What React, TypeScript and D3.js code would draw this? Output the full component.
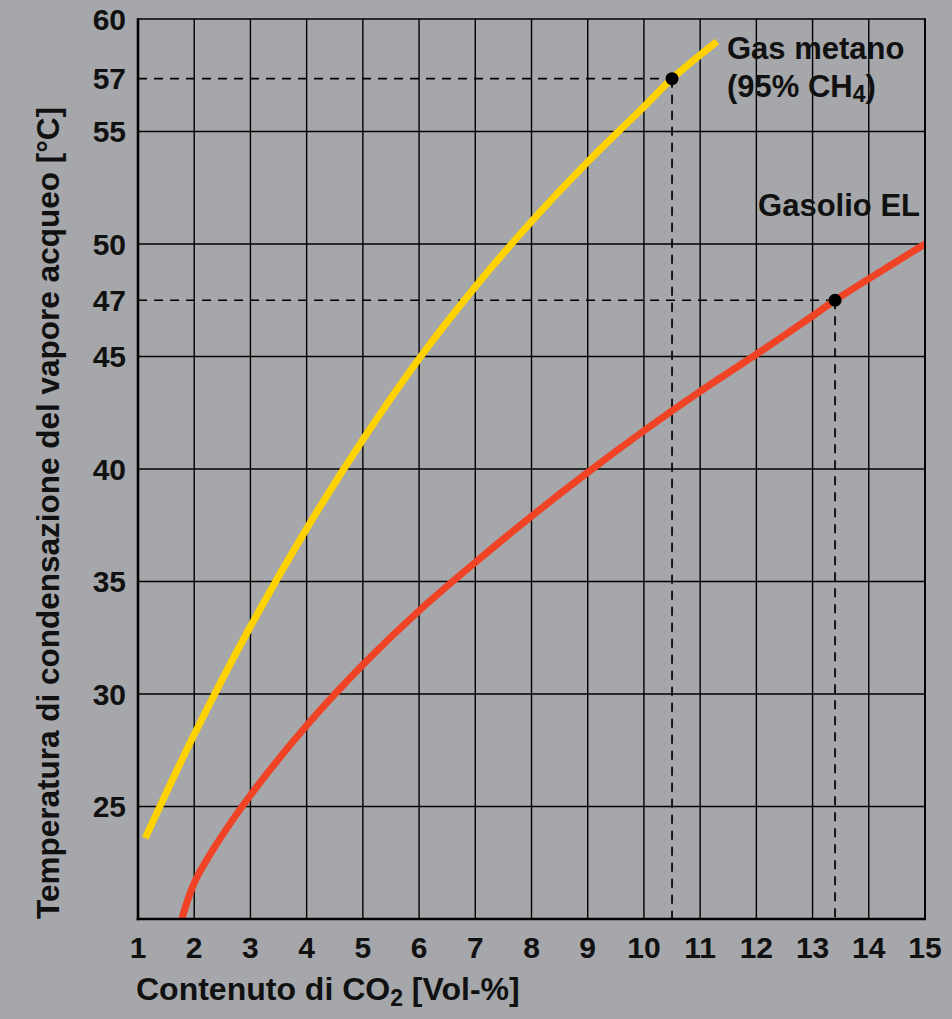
import React from "react";
import * as d3 from "d3";

// ---- Data ----
const xTicks = [1, 2, 3, 4, 5, 6, 7, 8, 9, 10, 11, 12, 13, 14, 15];
const yTicks = [25, 30, 35, 40, 45, 50, 55, 60];
const gridY = [20, 25, 30, 35, 40, 45, 50, 55, 60];

// Gas metano (95% CH4): CO2 content [Vol-%] vs dew point [°C]
const metanoX = [1.13, 2, 3, 4, 5, 6, 7, 8, 9, 10, 10.5, 11.3];
const metanoY = [23.6, 28.2, 33.0, 37.35, 41.3, 44.9, 48.1, 51.0, 53.65, 56.1, 57.35, 59.0];

// Gasolio EL
const gasolioX = [1.78, 2, 2.39, 3, 4, 5, 6, 7, 8, 9, 10, 11, 12, 13, 13.4, 14, 15];
const gasolioY = [20, 21.6, 23.3, 25.5, 28.6, 31.3, 33.7, 35.85, 37.9, 39.85, 41.7, 43.45, 45.1, 46.8, 47.5, 48.45, 50.0];

// Highlighted points (drawn position) and their tick labels
const markerX = [10.5, 13.4];
const markerY = [57.35, 47.5];
const markerLabels = ["57", "47"];

const W = 952;
const H = 1019;
const left = 138;
const right = 925;
const top = 19;
const bottom = 919;

const BG = "#a5a7aa";
const YELLOW = "#ffd200";
const RED = "#f04325";
const FONT = "'Liberation Sans', Arial, Helvetica, sans-serif";

export default function App() {
  const x = d3.scaleLinear().domain([1, 15]).range([left, right]);
  const y = d3.scaleLinear().domain([20, 60]).range([bottom, top]);

  const line = d3
    .line<[number, number]>()
    .x((d) => x(d[0]))
    .y((d) => y(d[1]))
    .curve(d3.curveCatmullRom.alpha(0.5));

  const metano: [number, number][] = metanoX.map((v, i) => [v, metanoY[i]]);
  const gasolio: [number, number][] = gasolioX.map((v, i) => [v, gasolioY[i]]);

  return (
    <svg
      width={W}
      height={H}
      style={{ position: "absolute", left: 0, top: 0, display: "block" }}
      fontFamily={FONT}
      fontWeight="bold"
    >
      <rect x={0} y={0} width={W} height={H} fill={BG} />

      {/* grid */}
      <g stroke="#000" strokeWidth={1.4}>
        {xTicks.slice(1, -1).map((t) => (
          <line key={"gx" + t} x1={x(t)} x2={x(t)} y1={y(60)} y2={y(20)} />
        ))}
        {gridY.slice(1, -1).map((t) => (
          <line key={"gy" + t} x1={x(1)} x2={x(15)} y1={y(t)} y2={y(t)} />
        ))}
      </g>

      {/* dashed reference lines */}
      <g stroke="#000" strokeWidth={1.7} strokeDasharray="9,7" fill="none">
        {markerX.map((mx, i) => (
          <g key={"d" + i}>
            <line x1={x(1)} x2={x(mx)} y1={y(markerY[i])} y2={y(markerY[i])} />
            <line x1={x(mx)} x2={x(mx)} y1={y(markerY[i])} y2={y(20)} />
          </g>
        ))}
      </g>

      {/* curves */}
      <path d={line(metano) || ""} fill="none" stroke={YELLOW} strokeWidth={7} strokeLinecap="butt" />
      <path d={line(gasolio) || ""} fill="none" stroke={RED} strokeWidth={7} strokeLinecap="butt" />

      {/* frame */}
      <line x1={x(1)} x2={x(15)} y1={y(60)} y2={y(60)} stroke="#000" strokeWidth={1.6} />
      <line x1={x(15)} x2={x(15)} y1={y(60) - 0.8} y2={y(20)} stroke="#000" strokeWidth={2} />
      <line x1={x(1)} x2={x(1)} y1={y(60) - 0.8} y2={y(20) + 1.2} stroke="#000" strokeWidth={2.6} />
      <line x1={x(1) - 1.3} x2={x(15) + 1} y1={y(20)} y2={y(20)} stroke="#000" strokeWidth={2.6} />

      {/* markers */}
      {markerX.map((mx, i) => (
        <circle key={"m" + i} cx={x(mx)} cy={y(markerY[i])} r={6.5} fill="#000" />
      ))}

      {/* y tick labels */}
      <g fontSize={30} textAnchor="end" fill="#111">
        {yTicks.map((t) => (
          <text key={"yl" + t} x={126} y={y(t) + 10.5}>
            {t}
          </text>
        ))}
        {markerY.map((v, i) => (
          <text key={"ml" + i} x={126} y={y(v) + 10.5}>
            {markerLabels[i]}
          </text>
        ))}
      </g>

      {/* x tick labels */}
      <g fontSize={30} textAnchor="middle" fill="#111">
        {xTicks.map((t) => (
          <text key={"xl" + t} x={x(t)} y={958}>
            {t}
          </text>
        ))}
      </g>

      {/* axis titles */}
      <text x={136} y={1000} fontSize={32} fill="#111">
        Contenuto di CO
        <tspan fontSize={23} dy={6}>2</tspan>
        <tspan dy={-6}> [Vol-%]</tspan>
      </text>
      <text
        transform={`translate(59, 513) rotate(-90)`}
        textAnchor="middle"
        fontSize={31.5}
        fill="#111"
      >
        Temperatura di condensazione del vapore acqueo [°C]
      </text>

      {/* series labels */}
      <g fontSize={31} fill="#111">
        <text x={727} y={59}>Gas metano</text>
        <text x={727} y={97}>
          (95% CH<tspan fontSize={23} dy={5}>4</tspan>
          <tspan dy={-5}>)</tspan>
        </text>
        <text x={920} y={216} textAnchor="end">Gasolio EL</text>
      </g>
    </svg>
  );
}
